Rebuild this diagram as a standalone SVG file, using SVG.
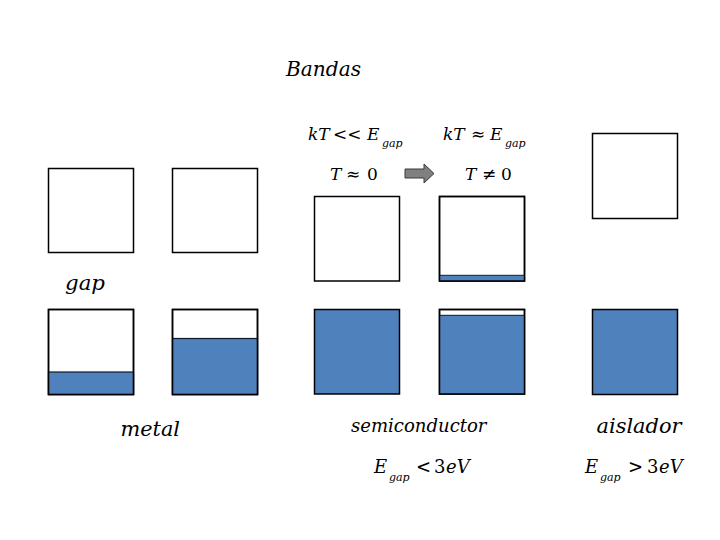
<svg xmlns="http://www.w3.org/2000/svg" width="720" height="540" viewBox="0 0 720 540">
<style>
.box{fill:#ffffff;stroke:#000000;stroke-width:1.5}
.fill{fill:#4f81bd;stroke:#0d1a2a;stroke-width:1.2}
text{font-family:'DejaVu Serif',serif;font-style:italic;fill:#000}
tspan.n{font-style:normal}
tspan.sub{font-size:11px}
</style>
<rect width="720" height="540" fill="#ffffff"/>
<text x="286" y="76" font-size="21" textLength="75" lengthAdjust="spacingAndGlyphs">Bandas</text>

<g id="metal-top-1"><rect class="box" x="48.5" y="168.5" width="85" height="84"/></g>
<g id="metal-top-2"><rect class="box" x="172.5" y="168.5" width="85" height="84"/></g>
<g id="metal-bottom-1"><rect class="box" x="48.5" y="309.5" width="85" height="85"/><rect class="fill" x="48.5" y="372" width="85" height="22.5"/><rect x="48.5" y="309.5" width="85" height="85" fill="none" stroke="#000" stroke-width="1.5"/></g>
<g id="metal-bottom-2"><rect class="box" x="172.5" y="309.5" width="85" height="85"/><rect class="fill" x="172.5" y="338.5" width="85" height="56"/><rect x="172.5" y="309.5" width="85" height="85" fill="none" stroke="#000" stroke-width="1.5"/></g>

<g id="semi-top-cold"><rect class="box" x="314.5" y="196.5" width="85" height="84.5"/></g>
<g id="semi-top-hot"><rect class="box" x="439.5" y="196.5" width="85" height="84.5"/><rect x="439.5" y="275.5" width="85" height="5.5" fill="#4f81bd"/><line x1="439.5" y1="275.3" x2="524.5" y2="275.3" stroke="#0d1a2a" stroke-width="1"/><rect x="439.5" y="196.5" width="85" height="84.5" fill="none" stroke="#000" stroke-width="1.5"/></g>
<g id="semi-bottom-cold"><rect x="314.5" y="309.5" width="85" height="84.5" fill="#4f81bd" stroke="#000" stroke-width="1.5"/></g>
<g id="semi-bottom-hot"><rect class="box" x="439.5" y="309.5" width="85" height="84.5"/><rect x="439.5" y="315.3" width="85" height="78.7" fill="#4f81bd"/><line x1="439.5" y1="315.3" x2="524.5" y2="315.3" stroke="#0d1a2a" stroke-width="1"/><rect x="439.5" y="309.5" width="85" height="84.5" fill="none" stroke="#000" stroke-width="1.5"/></g>

<g id="aislador-top"><rect class="box" x="592.5" y="133.5" width="85" height="85"/></g>
<g id="aislador-bottom"><rect x="592.5" y="309.5" width="85" height="85" fill="#4f81bd" stroke="#000" stroke-width="1.5"/></g>

<g id="connectors">
<polygon points="405,169 424,169 424,164 434,173.5 424,183 424,178 405,178" fill="#808080" stroke="#3a3a3a" stroke-width="1"/>
</g>

<text x="65" y="290" font-size="21" textLength="40" lengthAdjust="spacingAndGlyphs">gap</text>
<text x="120.5" y="435.5" font-size="21" textLength="59.5" lengthAdjust="spacingAndGlyphs">metal</text>
<text x="351" y="431.5" font-size="19" textLength="135.5" lengthAdjust="spacingAndGlyphs">semiconductor</text>
<text x="596.5" y="433" font-size="20" textLength="85" lengthAdjust="spacingAndGlyphs">aislador</text>

<text font-size="17" y="140"><tspan x="308">kT</tspan><tspan class="n" x="333">&lt;&lt;</tspan><tspan x="367">E</tspan><tspan class="sub" x="382" y="147">gap</tspan></text>
<text font-size="17" y="140"><tspan x="443">kT</tspan><tspan class="n" x="471">≈</tspan><tspan x="490">E</tspan><tspan class="sub" x="505" y="147">gap</tspan></text>
<text font-size="17" y="179.5"><tspan x="330">T</tspan><tspan class="n" x="346">≈</tspan><tspan class="n" x="367">0</tspan></text>
<text font-size="17" y="179.5"><tspan x="465">T</tspan><tspan class="n" x="482">≠</tspan><tspan class="n" x="501">0</tspan></text>
<text font-size="18" y="473"><tspan x="374">E</tspan><tspan class="sub" x="389" y="480.5">gap</tspan><tspan class="n" x="416" y="473">&lt;</tspan><tspan class="n" x="434">3</tspan><tspan x="446">eV</tspan></text>
<text font-size="18" y="473"><tspan x="585">E</tspan><tspan class="sub" x="600" y="480.5">gap</tspan><tspan class="n" x="628" y="473">&gt;</tspan><tspan class="n" x="647">3</tspan><tspan x="659">eV</tspan></text>
</svg>
